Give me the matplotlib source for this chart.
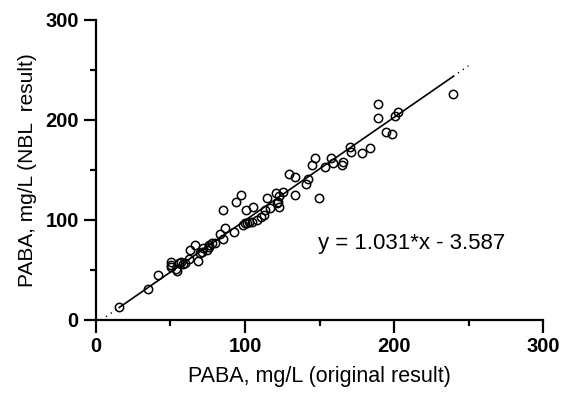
import numpy as np
import matplotlib.pyplot as plt

plt.rcParams['font.family'] = ['Liberation Sans', 'DejaVu Sans']

# original result vs NBL result (mg/L)
orig = [15.6, 34.7, 41.4, 50.3, 50.3, 50.5, 54.6, 53.7, 55.5, 58.6, 56.8, 62.6,
        63.1, 66.4, 68.5, 69.8, 71.6, 74.7, 75.6, 77.6, 79.9, 85.5, 94.0, 97.3,
        100.7, 105.6, 114.5, 120.6, 86.8, 83.2, 85.5, 92.6, 98.4, 100.0, 102.9,
        104.5, 107.8, 112.8, 116.8, 121.3, 123.0, 113.4, 123.0, 125.7, 129.7,
        133.6, 133.6, 140.9, 142.5, 144.8, 147.0, 149.9, 153.7, 157.5, 158.8,
        164.9, 166.0, 170.5, 170.9, 178.7, 183.9, 189.5, 189.5, 194.6, 198.7,
        200.7, 202.9, 239.8, 76.0, 70.9, 60.0, 101.1, 110.5, 122.0]
nbl = [12.7, 31.3, 45.0, 58.3, 55.0, 52.7, 48.7, 51.3, 56.7, 56.0, 58.0, 60.7,
       70.0, 75.0, 59.3, 66.7, 71.7, 70.0, 75.0, 76.7, 77.3, 110.0, 118.3, 125.0,
       110.0, 113.3, 121.7, 127.3, 92.3, 86.0, 81.3, 88.3, 95.0, 96.7, 98.3,
       98.3, 100.0, 105.0, 111.7, 116.7, 112.7, 110.0, 124.0, 128.3, 146.0,
       142.7, 125.0, 136.0, 140.7, 155.0, 161.7, 122.0, 152.7, 161.7, 157.3,
       155.0, 158.3, 172.7, 168.3, 166.7, 171.7, 216.0, 202.3, 188.3, 185.7,
       204.3, 208.3, 226.0, 72.7, 68.3, 57.0, 97.3, 103.0, 118.3]

slope = 1.031
intercept = -3.587
ext_max = 250

fig, ax = plt.subplots(figsize=(5.66, 3.95), dpi=100)
fig.subplots_adjust(left=0.1696, right=0.9594, bottom=0.1899, top=0.9494)

ax.plot(orig, nbl, 'o', mfc='none', mec='black', ms=6, mew=1.1, zorder=3)

xmin, xmax = min(orig), max(orig)
xs = np.array([xmin, xmax])
ax.plot(xs, slope * xs + intercept, color='black', lw=1.2)
x0 = -intercept / slope
for a, b in [(x0, xmin), (xmax, ext_max)]:
    xe = np.array([a, b])
    ax.plot(xe, slope * xe + intercept, color='black', lw=1.1, ls=(0, (0.8, 3)))

ax.text(149, 76, 'y = 1.031*x - 3.587', fontsize=16, va='center', ha='left')

ax.set_xlim(0, 300)
ax.set_ylim(0, 300)
ax.set_xticks([0, 100, 200, 300])
ax.set_yticks([0, 100, 200, 300])
ax.set_xticks([50, 150, 250], minor=True)
ax.set_yticks([50, 150, 250], minor=True)

for s in ['top', 'right']:
    ax.spines[s].set_visible(False)
for s in ['left', 'bottom']:
    ax.spines[s].set_linewidth(1.6)

ax.tick_params(which='major', length=9, width=1.6, labelsize=14.5, pad=3.5)
ax.tick_params(which='minor', length=4.5, width=1.6)
for lab in ax.get_xticklabels() + ax.get_yticklabels():
    lab.set_fontweight('bold')

ax.set_xlabel('PABA, mg/L (original result)', fontsize=15.5, labelpad=7)
ax.set_ylabel('PABA, mg/L (NBL  result)', fontsize=15, labelpad=6)

fig.savefig('out.png', dpi=100)
